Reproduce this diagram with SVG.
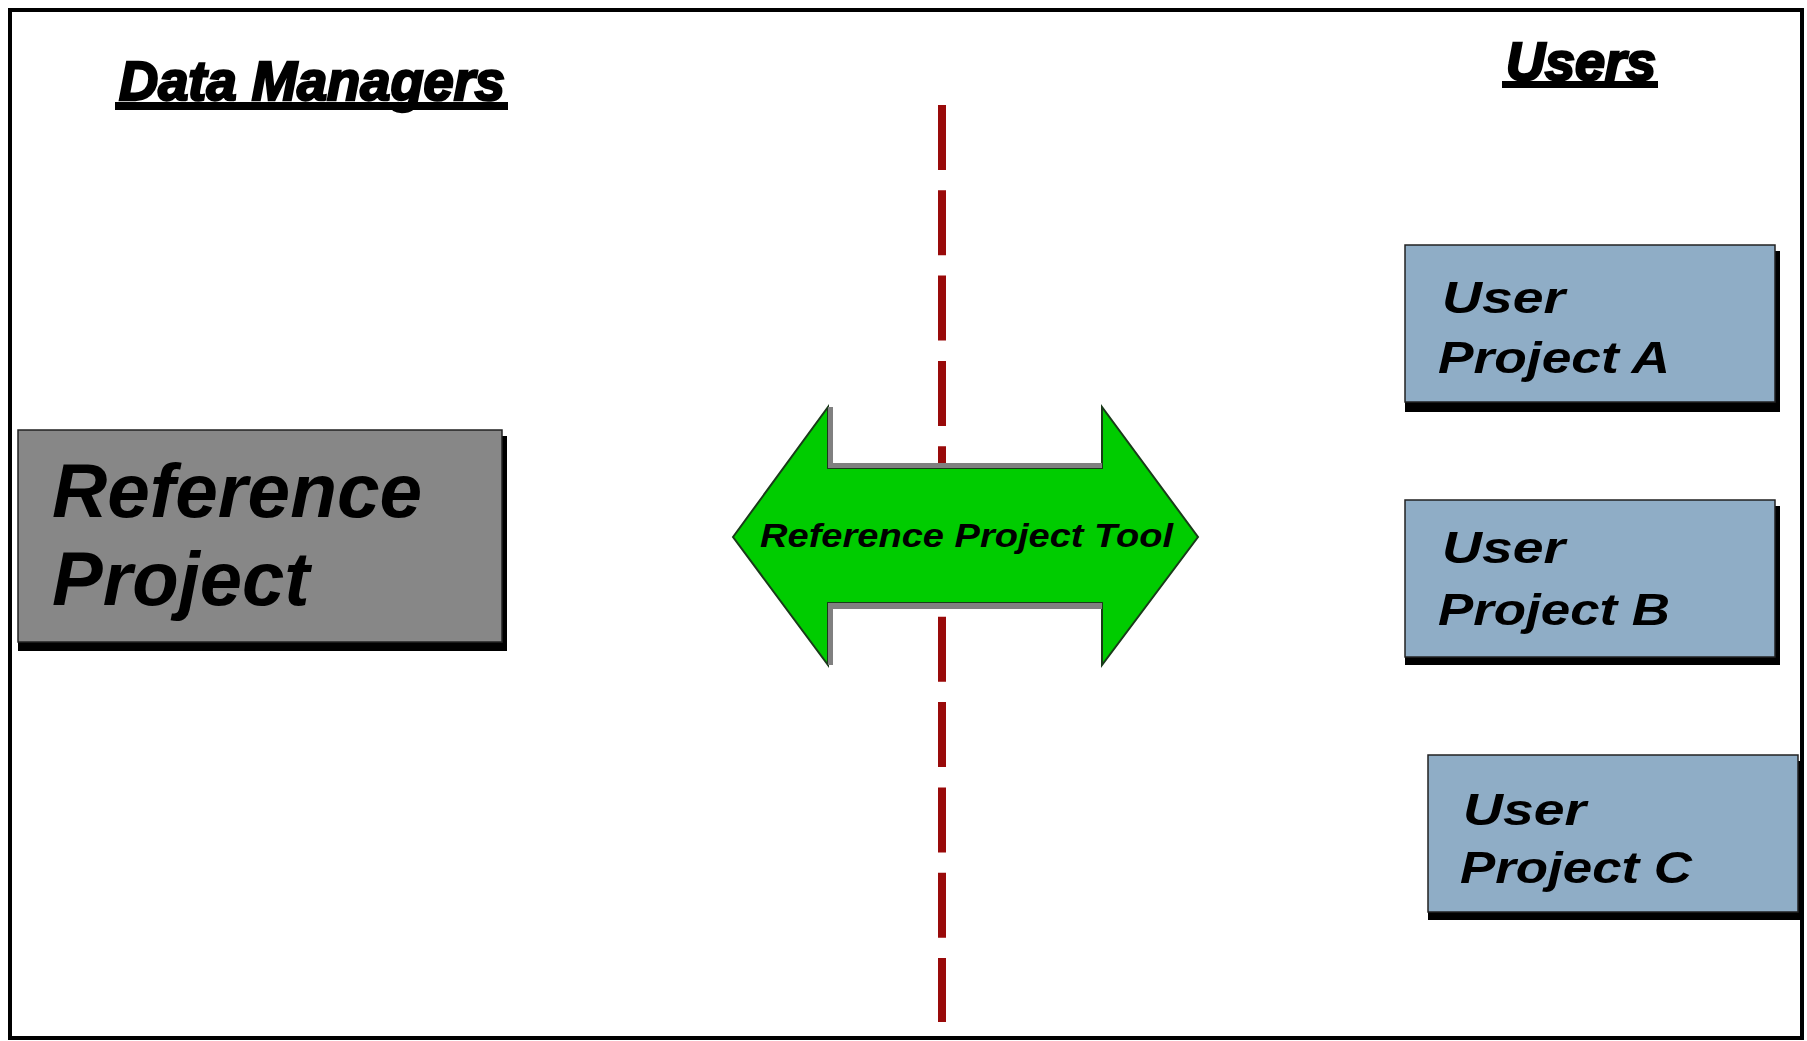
<svg xmlns="http://www.w3.org/2000/svg" width="1807" height="1041" viewBox="0 0 1807 1041">
  <style>
    .lbl { font-family: "Liberation Sans", Arial, sans-serif; font-weight: bold; font-style: italic; fill: #000; }
    .shadow { fill: #000; }
    .user { fill: #8fadc6; stroke: #222; stroke-width: 1.5; }
    .ref { fill: #878787; stroke: #222; stroke-width: 1.5; }
    .bevel { fill: #808080; }
  </style>
  <rect x="0" y="0" width="1807" height="1041" fill="#fff"/>
  <rect id="frame" x="10" y="10" width="1792" height="1028" fill="#fff" stroke="#000" stroke-width="4"/>

  <g id="title-data-managers">
    <text class="lbl" x="119" y="100" font-size="56" textLength="386" lengthAdjust="spacingAndGlyphs" stroke="#000" stroke-width="2.5">Data Managers</text>
    <rect x="115" y="102" width="393" height="8" fill="#000"/>
  </g>
  <g id="title-users">
    <text class="lbl" x="1506" y="80" font-size="54" textLength="150" lengthAdjust="spacingAndGlyphs" stroke="#000" stroke-width="2.5">Users</text>
    <rect x="1502" y="81" width="156" height="7" fill="#000"/>
  </g>

  <g id="connectors">
    <line x1="942" y1="105" x2="942" y2="1022" stroke="#990a0a" stroke-width="8" stroke-dasharray="65 20.3"/>
  </g>

  <g id="reference-project">
    <rect class="shadow" x="18" y="436" width="489" height="215"/>
    <rect class="ref" x="18" y="430" width="484" height="212"/>
    <text class="lbl" x="52" y="517" font-size="76" textLength="370" lengthAdjust="spacingAndGlyphs">Reference</text>
    <text class="lbl" x="52" y="605" font-size="76">Project</text>
  </g>

  <g id="reference-project-tool">
    <polygon points="733,537 828,407 828,468 1102,468 1102,407 1198,537 1102,665 1102,603 828,603 828,665" fill="#00cc00" stroke="#1a3a1a" stroke-width="2"/>
    <rect class="bevel" x="828" y="407" width="5" height="61"/>
    <rect class="bevel" x="828" y="463" width="274" height="5"/>
    <rect class="bevel" x="828" y="603" width="274" height="6"/>
    <rect class="bevel" x="828" y="603" width="5" height="62"/>
    <text class="lbl" x="760" y="547" font-size="34" textLength="413" lengthAdjust="spacingAndGlyphs">Reference Project Tool</text>
  </g>

  <g id="user-project-a">
    <rect class="shadow" x="1405" y="251" width="375" height="161"/>
    <rect class="user" x="1405" y="245" width="370" height="157"/>
    <text class="lbl" x="1442" y="313" font-size="44" textLength="123" lengthAdjust="spacingAndGlyphs">User</text>
    <text class="lbl" x="1438" y="373" font-size="44" textLength="232" lengthAdjust="spacingAndGlyphs">Project A</text>
  </g>

  <g id="user-project-b">
    <rect class="shadow" x="1405" y="506" width="375" height="159"/>
    <rect class="user" x="1405" y="500" width="370" height="157"/>
    <text class="lbl" x="1442" y="563" font-size="44" textLength="123" lengthAdjust="spacingAndGlyphs">User</text>
    <text class="lbl" x="1438" y="625" font-size="44" textLength="232" lengthAdjust="spacingAndGlyphs">Project B</text>
  </g>

  <g id="user-project-c">
    <rect class="shadow" x="1428" y="761" width="374" height="159"/>
    <rect class="user" x="1428" y="755" width="370" height="157"/>
    <text class="lbl" x="1463" y="825" font-size="44" textLength="123" lengthAdjust="spacingAndGlyphs">User</text>
    <text class="lbl" x="1460" y="883" font-size="44" textLength="232" lengthAdjust="spacingAndGlyphs">Project C</text>
  </g>
</svg>
